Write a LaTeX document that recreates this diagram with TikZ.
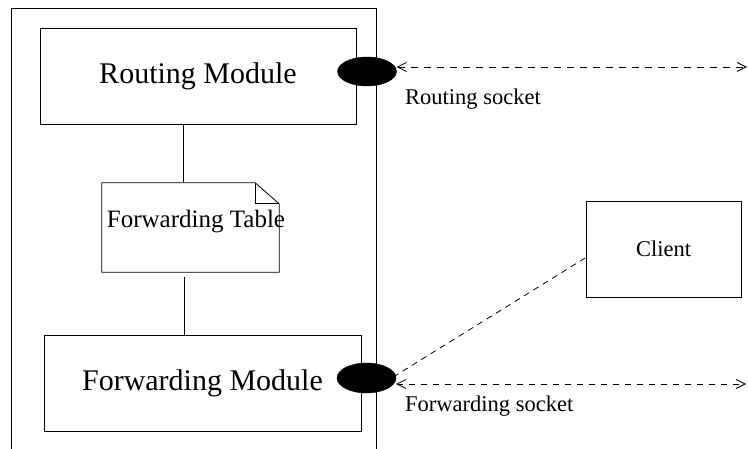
\documentclass[tikz,border=0pt]{standalone}
\usepackage{fontspec}
\setmainfont{Liberation Serif}
\usetikzlibrary{shapes.geometric,arrows.meta,calc}

\tikzset{
  module/.style={draw, line width=0.8pt, rectangle, inner sep=0pt,
                 minimum width=317pt, minimum height=96pt,
                 font=\fontsize{30}{36}\selectfont},
  plainbox/.style={draw, line width=0.8pt, rectangle, inner sep=0pt,
                 font=\fontsize{22.5}{27}\selectfont},
  socket/.style={ellipse, fill=black, draw=black, inner sep=0pt,
                 minimum width=59pt, minimum height=29pt},
  sockettext/.style={anchor=base west, inner sep=0pt,
                 font=\fontsize{22.5}{27}\selectfont},
  link/.style={line width=0.8pt},
  channel/.style={line width=0.8pt, dash pattern=on 7pt off 6pt,
                 {Straight Barb[length=9pt,width=9pt]}-{Straight Barb[length=9pt,width=9pt]}},
  clientlink/.style={line width=0.8pt, dash pattern=on 6pt off 5pt},
}

\begin{document}
\begin{tikzpicture}[x=1pt,y=-1pt]
\useasboundingbox (0,0) rectangle (748,449);

% process boundary, open at the bottom
\draw[link] (11,449) |- (376,8) -- (376,449);

% modules
\node[module, minimum width=316pt] (routing) at (198,76) {Routing Module};
\node[module] (forwarding) at (202.5,383) {Forwarding Module};

% forwarding table drawn as a note with a folded corner
\node[rectangle, inner sep=0pt, minimum width=177pt, minimum height=89pt] (table) at (190.5,227.5) {};
\draw[link] (table.north west) -- ($(table.north east)+(-24,0)$) -- ($(table.north east)+(0,21)$)
            -- (table.south east) -- (table.south west) -- cycle;
\draw[link] ($(table.north east)+(-24,0)$) |- ($(table.north east)+(0,21)$);
\node[font=\fontsize{25}{30}\selectfont, inner sep=0pt] (tabletext) at (196,221.5) {Forwarding Table};

% links between modules and the table
\draw[link] (routing.south -| 183,0) -- ($(table.north -| 183,0)+(0,-1)$);
\draw[link] ($(table.south -| 184,0)+(0,5)$) -- (forwarding.north -| 184,0);

% sockets
\node[socket] (rsock) at (367,71.5) {};
\node[socket, minimum height=30pt] (fsock) at (366.5,378) {};

\node[sockettext] (rlabel) at (405,105) {Routing socket};
\node[sockettext] (flabel) at (405,412) {Forwarding socket};

% external channels
\coordinate (rend) at (747,67);
\coordinate (fend) at (746,384);
\draw[channel] (rsock.east |- rend) -- (rend);
\draw[channel, dash pattern=on 6pt off 6pt] (fsock.east |- fend) -- (fend);

% client
\node[plainbox, minimum width=155pt, minimum height=96pt] (client) at (663.5,249) {Client};
\draw[clientlink] ($(fsock.east)+(-3,-1)$) -- ($(client.north west)!0.59!(client.south west)$);

\end{tikzpicture}
\end{document}
